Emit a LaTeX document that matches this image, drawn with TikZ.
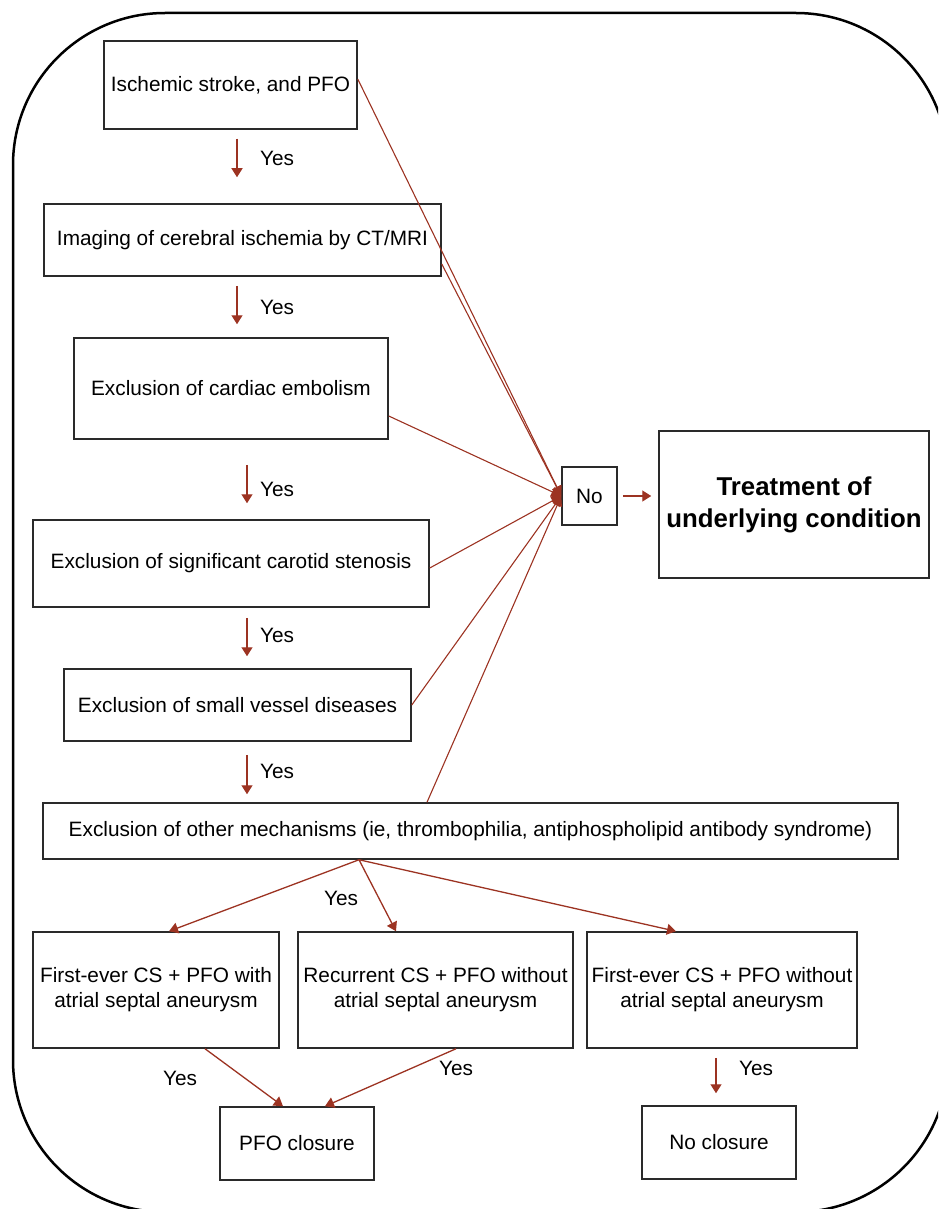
\documentclass[tikz,border=0pt]{standalone}
\usepackage{fontspec}
\setmainfont{Liberation Sans}
\usetikzlibrary{arrows.meta}
\definecolor{arrred}{HTML}{9C3322}
\definecolor{boxgray}{HTML}{2A2A2A}
\tikzset{
  box/.style={draw=boxgray, line width=1.5pt, inner sep=0pt, align=center,
    font=\fontsize{20.8}{25}\selectfont},
  lbl/.style={inner sep=0pt, font=\fontsize{20.8}{25}\selectfont},
  conn/.style={draw=arrred, line width=1.3pt, -{Triangle[length=9pt,width=11pt]}},
  thin conn/.style={draw=arrred, line width=1.1pt, -{Triangle[length=10pt,width=10pt]}}
}
\begin{document}
\begin{tikzpicture}[x=1pt,y=-1pt]
\useasboundingbox (0,0) rectangle (938,1209);
\clip (0,0) rectangle (938,1209);
\draw[line width=2.5pt, rounded corners=152pt] (13,13) rectangle (948,1212);

% main column
\node[box, minimum width=253pt, minimum height=88pt] (b1) at (230.5,85) {Ischemic stroke, and PFO};
\node[box, minimum width=397pt, minimum height=72pt] (b2) at (242.5,240) {Imaging of cerebral ischemia by CT/MRI};
\node[box, minimum width=314pt, minimum height=101pt] (b3) at (231,388.5) {Exclusion of cardiac embolism};
\node[box, minimum width=396pt, minimum height=87pt] (b4) at (231,563.5) {Exclusion of significant carotid stenosis};
\node[box, minimum width=347pt, minimum height=72pt] (b5) at (237.5,705) {Exclusion of small vessel diseases};
\node[box, minimum width=855pt, minimum height=56pt] (b6) at (470.5,831) {Exclusion of other mechanisms (ie, thrombophilia, antiphospholipid antibody syndrome)};

% branches
\node[box, minimum width=246pt, minimum height=116pt] (bA) at (156,990) {First-ever CS + PFO with\\atrial septal aneurysm};
\node[box, minimum width=275pt, minimum height=116pt] (bB) at (435.5,990) {Recurrent CS + PFO without\\atrial septal aneurysm};
\node[box, minimum width=270pt, minimum height=116pt] (bC) at (722,990) {First-ever CS + PFO without\\atrial septal aneurysm};
\node[box, minimum width=154pt, minimum height=73pt] (bP) at (297,1143.5) {PFO closure};
\node[box, minimum width=154pt, minimum height=73pt] (bN) at (719,1142.5) {No closure};

% No / treatment
\node[box, minimum width=55pt, minimum height=58pt] (no) at (589.5,496) {No};
\node[box, minimum width=270pt, minimum height=147pt, font=\fontsize{25.8}{32}\selectfont\bfseries] (tr) at (794,504.5) {Treatment of\\underlying condition};

% x positions of the vertical Yes arrows
\coordinate (xa) at (237,0);
\coordinate (xb) at (247,0);
\coordinate (xc) at (716,0);

\draw[conn, shorten <=9pt, shorten >=26pt] (b1.south -| xa) -- (b2.north -| xa);
\draw[conn, shorten <=9pt, shorten >=13pt] (b2.south -| xa) -- (b3.north -| xa);
\draw[conn, shorten <=25pt, shorten >=16pt] (b3.south -| xb) -- (b4.north -| xb);
\draw[conn, shorten <=10pt, shorten >=12pt] (b4.south -| xb) -- (b5.north -| xb);
\draw[conn, shorten <=13pt, shorten >=8pt] (b5.south -| xb) -- (b6.north -| xb);

\node[lbl] (y1) at (277,158) {Yes};
\node[lbl] (y2) at (277,307) {Yes};
\node[lbl] (y3) at (277,489) {Yes};
\node[lbl] (y4) at (277,635) {Yes};
\node[lbl] (y5) at (277,771) {Yes};

% No connectors
\draw[thin conn] ([yshift=6pt]b1.east) -- (no.west);
\draw[thin conn] ([yshift=-24pt]b2.east) -- (no.west);
\draw[thin conn] ([yshift=-27.5pt]b3.east) -- (no.west);
\draw[thin conn] ([yshift=-4.5pt]b4.east) -- (no.west);
\draw[thin conn] (b5.east) -- (no.west);
\draw[thin conn] ([xshift=-43.5pt]b6.north) -- (no.west);
\draw[conn, shorten <=5pt, shorten >=7pt] (no.east) -- (no.east -| tr.west);

% fan
\draw[conn] ([xshift=-111.5pt]b6.south) -- ([xshift=13pt]bA.north);
\draw[conn] ([xshift=-111.5pt]b6.south) -- ([xshift=-39.5pt]bB.north);
\draw[conn] ([xshift=-111.5pt]b6.south) -- ([xshift=-46pt]bC.north);
\node[lbl] (y6) at (341,898) {Yes};

% to outcomes
\draw[conn] ([xshift=49pt]bA.south) -- ([xshift=-14pt]bP.north);
\draw[conn] ([xshift=20.5pt]bB.south) -- ([xshift=28pt]bP.north);
\draw[conn, shorten <=9pt, shorten >=12pt] (bC.south -| xc) -- (bN.north -| xc);
\node[lbl] (y7) at (180,1078) {Yes};
\node[lbl] (y8) at (456,1068) {Yes};
\node[lbl] (y9) at (756,1068) {Yes};
\end{tikzpicture}
\end{document}
